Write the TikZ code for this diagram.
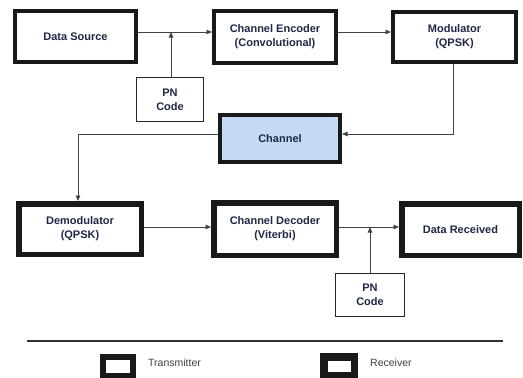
\documentclass[tikz,border=0pt]{standalone}
\usepackage{fontspec}
\setmainfont{Liberation Sans}
\usetikzlibrary{arrows.meta}
\definecolor{txtcol}{HTML}{1E2846}
\definecolor{linecol}{HTML}{3A463F}
\definecolor{chanfill}{HTML}{C4DAF4}
\tikzset{
  lbl/.style={font=\bfseries\fontsize{11}{14}\selectfont, text=txtcol, align=center, inner sep=0pt},
  txbox/.style={lbl, draw=black!90, line width=4pt, minimum width=#1},
  rxbox/.style={lbl, draw=black!90, line width=5.5pt, minimum width=#1},
  pnbox/.style={lbl, draw=black!85, line width=0.9pt, minimum width=#1},
  conn/.style={draw=linecol, line width=0.8pt, -{Triangle[length=5.5pt,width=4.5pt]}},
  plain/.style={draw=linecol, line width=0.8pt},
  legtext/.style={font=\fontsize{10.5}{12}\selectfont, text=black!75, anchor=west, inner sep=0pt}
}
\begin{document}
\begin{tikzpicture}[x=1pt,y=-1pt]
\useasboundingbox (0,0) rectangle (523,378);
% transmitter side
\node[txbox=121pt, minimum height=51pt] (ds) at (75.5,36.5) {Data Source};
\node[txbox=122pt, minimum height=52pt] (enc) at (275,37) {Channel Encoder\\(Convolutional)};
\node[txbox=123pt, minimum height=50pt] (mod) at (454.5,37) {Modulator\\(QPSK)};
\node[pnbox=67pt, minimum height=44pt] (pn1) at (170,99.5) {PN\\Code};
% channel
\node[txbox=120pt, minimum height=47pt, fill=chanfill] (ch) at (280,138.5) {Channel};
% receiver side
\node[rxbox=122.5pt, minimum height=50.5pt] (dem) at (80,229) {Demodulator\\(QPSK)};
\node[rxbox=122.5pt, minimum height=52.5pt] (dec) at (275,229) {Channel Decoder\\(Viterbi)};
\node[rxbox=117.5pt, minimum height=51.5pt] (dr) at (460.5,229.5) {Data Received};
\node[pnbox=69pt, minimum height=43pt] (pn2) at (370,295) {PN\\Code};
% connectors
\coordinate (j1) at (171,32);
\coordinate (j2) at (370,227);
\draw[conn] (ds.east |- j1) -- (enc.west |- j1);
\draw[conn] (pn1.north -| j1) -- (j1);
\draw[conn] (enc.east |- j1) -- (mod.west |- j1);
\coordinate (m1) at (453,134);
\coordinate (c1) at (78,134);
\draw[conn] (mod.south -| m1) -- (m1) -- (ch.east |- m1);
\draw[conn] (ch.west |- c1) -- (c1) -- (dem.north -| c1);
\draw[conn] (dem.east |- j2) -- (dec.west |- j2);
\draw[conn] (dec.east |- j2) -- (dr.west |- j2);
\draw[conn] (pn2.north) -- (j2);
% separator
\coordinate (s1) at (27,341);
\coordinate (s2) at (503,341);
\draw[black!80, line width=1.2pt] (s1) -- (s2);
% legend
\node[draw=black!90, line width=6pt, minimum width=30pt, minimum height=19pt, inner sep=0pt] (legT) at (118,366.5) {};
\node[legtext] (legTt) at (148,363) {Transmitter};
\node[draw=black!90, line width=7.5pt, minimum width=30.5pt, minimum height=18.5pt, inner sep=0pt] (legR) at (339,366) {};
\node[legtext] (legRt) at (370,363) {Receiver};
\end{tikzpicture}
\end{document}
